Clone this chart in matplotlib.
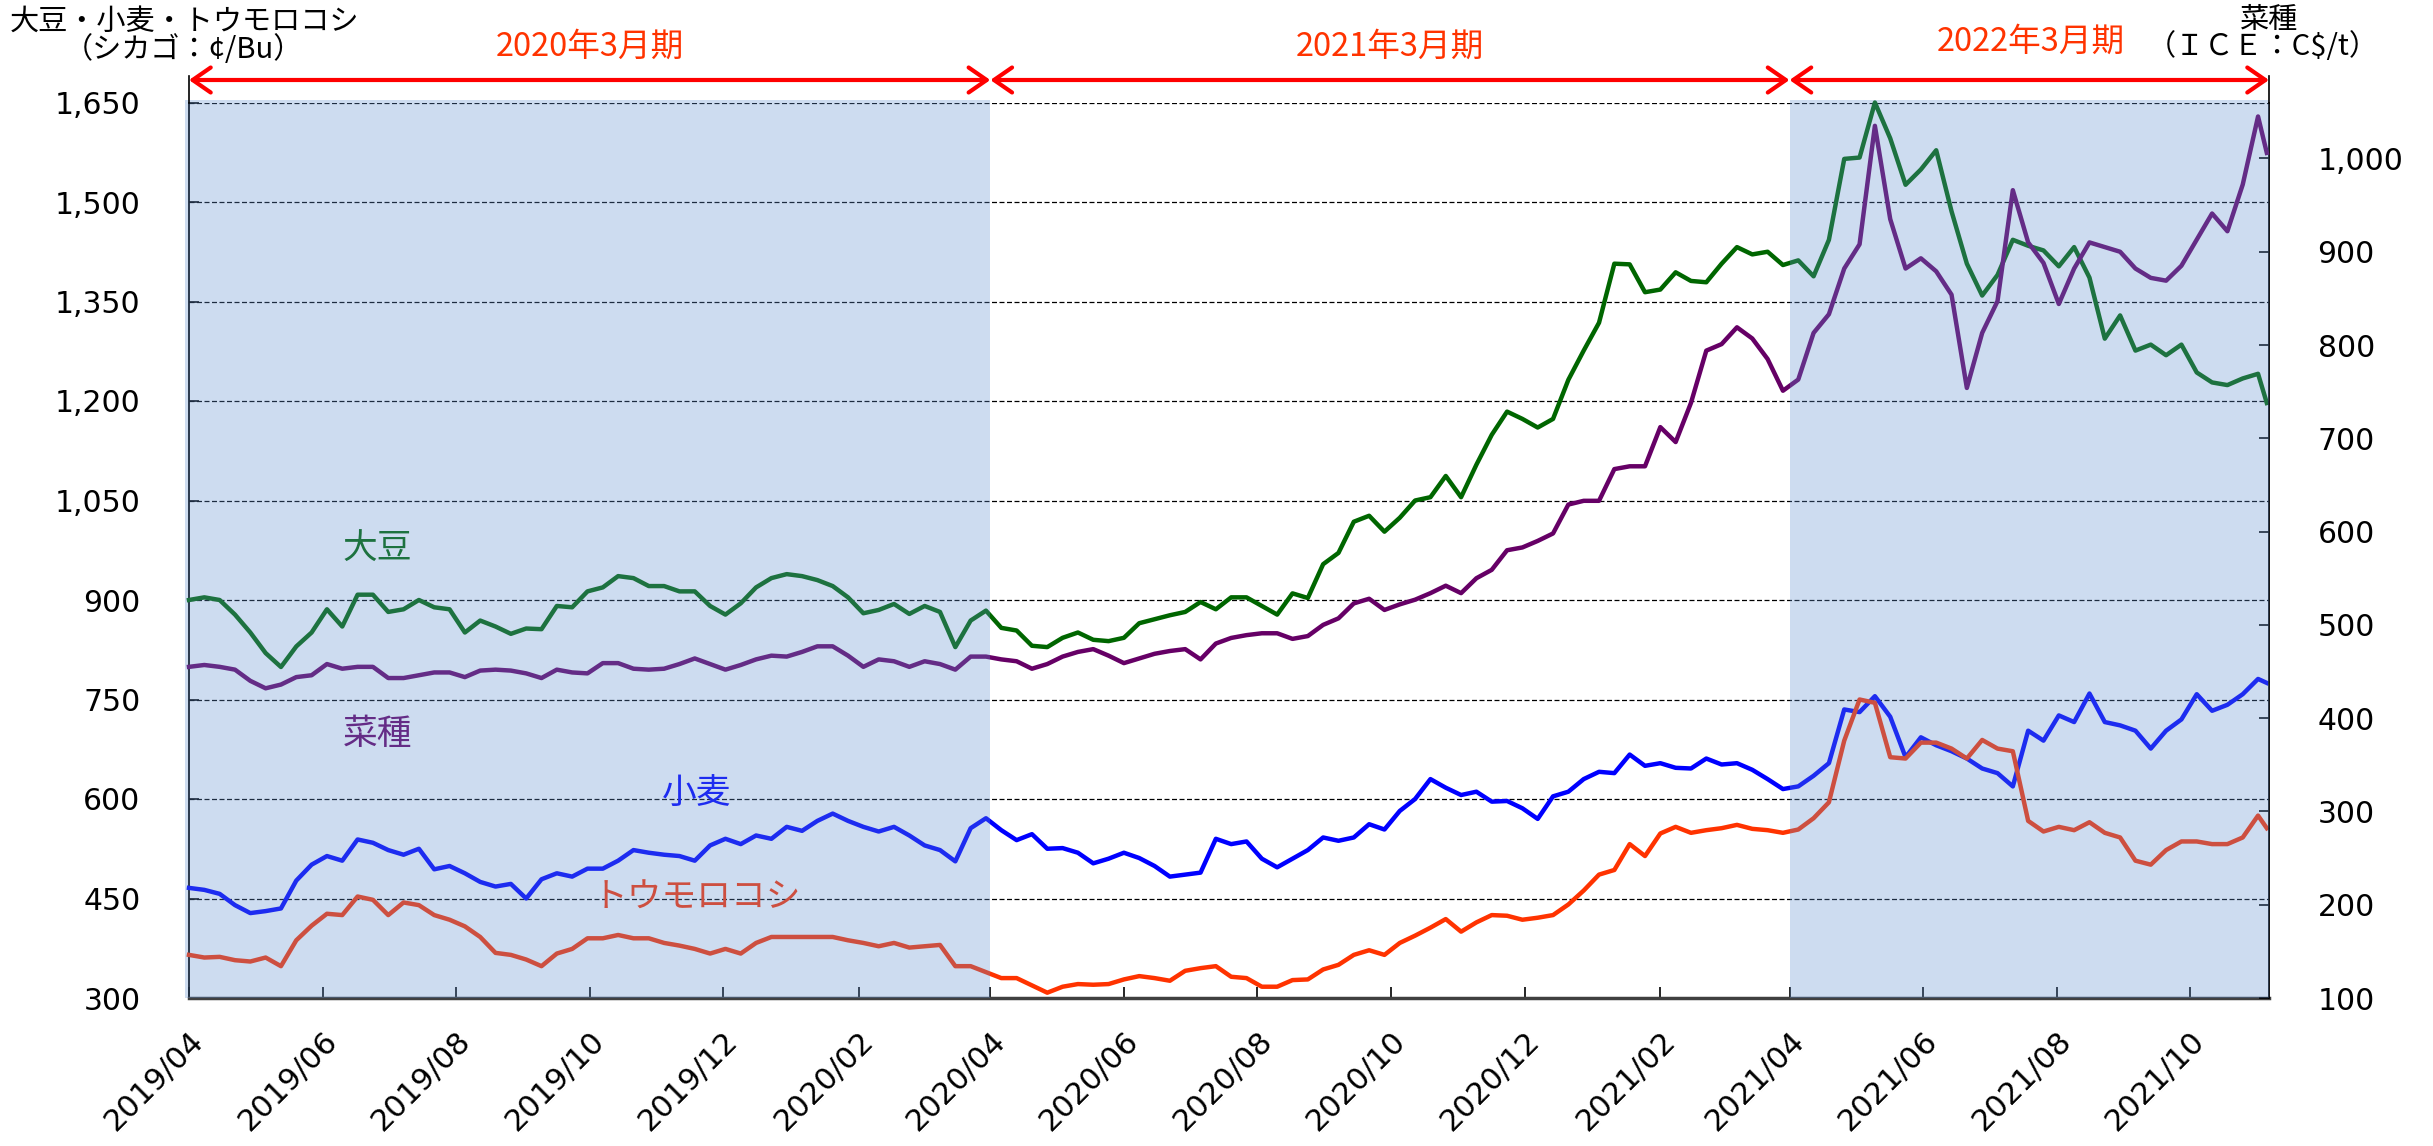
import numpy as np
import pandas as pd
import matplotlib
matplotlib.use('Agg')
import matplotlib.pyplot as plt
import matplotlib.dates as mdates
import matplotlib.transforms as mtransforms
from matplotlib.patches import Rectangle, FancyArrowPatch
from matplotlib.lines import Line2D
from matplotlib.ticker import FuncFormatter, FixedLocator

plt.rcParams['font.family'] = ['DejaVu Sans', 'Noto Sans CJK JP']
CJK = ['Noto Sans CJK JP', 'DejaVu Sans']

# ---------------- data (weekly readings, cents/bu ; rapeseed C$/t) ----------------
dates = list(pd.date_range('2019-04-01', periods=136, freq='7D')) + [pd.Timestamp('2021-11-05')]

soybean = [900, 904, 900, 878, 851, 820, 799, 830, 851, 886, 860, 908, 908, 882, 886, 900, 889, 886, 851, 869,
           860, 849, 857, 856, 891, 889, 913, 919, 936, 933, 921, 921, 913, 913, 891,
           878, 895, 919, 933, 939, 936, 930, 921, 904, 880, 885, 894, 879, 891, 882, 829, 869, 884, 858, 854,
           831, 829, 843, 851, 840, 838, 843, 865, 871, 877, 882, 897, 886, 904,
           904, 891, 878, 910, 903, 954, 971, 1018, 1027, 1003, 1024, 1050, 1055, 1087, 1055, 1104, 1149, 1184,
           1173, 1160, 1173, 1232, 1276, 1318, 1407, 1406, 1364, 1368, 1394, 1381, 1379, 1407, 1432, 1421, 1425,
           1405, 1412, 1388, 1443, 1565, 1567, 1650, 1596, 1526, 1549, 1578, 1486, 1407, 1359, 1390, 1443, 1434,
           1427, 1403, 1432, 1386, 1294, 1329, 1276, 1285, 1269, 1285, 1243, 1228, 1224, 1234, 1241, 1197]

rapeseed = [455, 457, 455, 452, 440, 432, 436, 444, 446, 458, 453, 455, 455, 443, 443, 446, 449, 449, 444, 451,
            452, 451, 448, 443, 452, 449, 448, 459, 459, 453, 452, 453, 458, 464, 458,
            452, 457, 463, 467, 466, 471, 477, 477, 467, 455, 463, 461, 455, 461, 458, 452, 466, 466, 463, 461,
            453, 458, 466, 471, 474, 467, 459, 464, 469, 472, 474, 463, 480, 486,
            489, 491, 491, 485, 488, 500, 507, 523, 528, 516, 522, 527, 534, 542, 534, 550, 559, 580, 583, 590,
            598, 629, 633, 633, 667, 670, 670, 712, 696, 738, 794, 801, 819, 807, 785,
            751, 763, 813, 833, 882, 908, 1035, 935, 882, 893, 879, 854, 754, 813, 847, 966, 910, 888, 844, 882,
            910, 905, 900, 882, 872, 869, 885, 913, 941, 922, 972, 1045, 1006]

wheat = [466, 463, 457, 440, 428, 431, 435, 477, 501, 514, 507, 539, 534, 523, 516, 525, 494, 499, 488, 475,
         468, 472, 450, 479, 488, 483, 495, 495, 507, 523, 519, 516, 514, 507, 530,
         540, 532, 545, 540, 558, 552, 567, 578, 567, 558, 551, 558, 545, 530, 523, 506, 556, 571, 553, 538,
         547, 525, 526, 519, 503, 510, 519, 511, 499, 483, 486, 489, 540, 532,
         536, 510, 497, 510, 523, 542, 537, 542, 562, 554, 582, 600, 630, 617, 606, 611, 596, 597, 586, 570,
         604, 611, 630, 641, 639, 667, 650, 654, 647, 646, 661, 652, 654, 644, 630,
         615, 619, 635, 654, 735, 731, 755, 724, 663, 693, 681, 672, 661, 646, 639, 619, 703, 688, 726, 716,
         759, 716, 711, 703, 676, 703, 720, 758, 733, 742, 758, 781, 775]

corn = [365, 361, 362, 357, 355, 361, 348, 387, 409, 427, 425, 453, 448, 425, 444, 440, 425, 418, 408, 392,
        368, 365, 358, 348, 367, 374, 390, 390, 395, 390, 390, 383, 379, 374, 367,
        374, 367, 383, 392, 392, 392, 392, 392, 387, 383, 378, 383, 376, 378, 380, 348, 348, 339, 330, 330,
        319, 308, 317, 321, 320, 321, 328, 333, 330, 326, 341, 345, 348, 332,
        330, 317, 317, 327, 328, 343, 350, 365, 372, 365, 383, 394, 406, 419, 400, 414, 425, 424, 418, 421,
        425, 441, 462, 486, 493, 532, 514, 548, 558, 549, 553, 556, 561, 555, 553,
        549, 554, 571, 595, 688, 750, 745, 663, 661, 685, 685, 676, 661, 689, 676, 672, 567, 551, 558, 553,
        565, 549, 542, 507, 501, 523, 536, 536, 532, 532, 542, 575, 556]

left_ticks = [300, 450, 600, 750, 900, 1050, 1200, 1350, 1500, 1650]
right_ticks = [100, 200, 300, 400, 500, 600, 700, 800, 900, 1000]
x_ticks = ['2019-04-01', '2019-06-01', '2019-08-01', '2019-10-01', '2019-12-01', '2020-02-01',
           '2020-04-01', '2020-06-01', '2020-08-01', '2020-10-01', '2020-12-01', '2021-02-01',
           '2021-04-01', '2021-06-01', '2021-08-01', '2021-10-01']
period_bounds = ['2019-04-01', '2020-04-01', '2021-04-01', '2021-11-06']
period_labels = ['2020年3月期', '2021年3月期', '2022年3月期']
shaded = [('2019-03-30', '2020-04-01'), ('2021-04-01', '2021-11-06')]

series_labels = [('大豆', '2019-06-26', 976), ('菜種', '2019-06-26', 697),
                 ('小麦', '2019-11-19', 608), ('トウモロコシ', '2019-11-19', 451)]

# ---------------- styling ----------------
W, H = 2433, 1146
C_SOY, C_RAPE, C_WHEAT, C_CORN = '#006600', '#660066', '#0000FF', '#FF3300'
SHADE = (96/255, 143/255, 207/255)
LW = 3.2

fig = plt.figure(figsize=(W/100, H/100), dpi=100)
L, R, T, B = 189, 2269, 102.5, 998
ax = fig.add_axes([L/W, 1-B/H, (R-L)/W, (B-T)/H])
ax2 = ax.twinx()

x0 = mdates.date2num(pd.Timestamp(period_bounds[0]))
x1 = mdates.date2num(pd.Timestamp(period_bounds[-1]))
ax.set_xlim(x0, x1)
ax.set_ylim(300, 1650)
ax2.set_ylim(100, 1060)

for v in left_ticks:
    ax.axhline(v, color='black', lw=0.9, ls=(0, (4, 2)), zorder=1)

ax.plot(dates, soybean, color=C_SOY, lw=LW, zorder=3, clip_on=False, solid_joinstyle='round')
ax.plot(dates, wheat, color=C_WHEAT, lw=LW, zorder=3, clip_on=False, solid_joinstyle='round')
ax.plot(dates, corn, color=C_CORN, lw=LW, zorder=3, clip_on=False, solid_joinstyle='round')
ax2.plot(dates, rapeseed, color=C_RAPE, lw=LW, zorder=3, clip_on=False, solid_joinstyle='round')

label_colors = [C_SOY, C_RAPE, C_WHEAT, C_CORN]
for (txt, d, v), c in zip(series_labels, label_colors):
    ax.text(pd.Timestamp(d), v, txt, color=c, fontsize=25, family=CJK,
            ha='center', va='center', zorder=4)

# shading overlay on top
blend = mtransforms.blended_transform_factory(ax2.transData, ax2.transAxes)
for a, b in shaded:
    xa = mdates.date2num(pd.Timestamp(a)); xb = mdates.date2num(pd.Timestamp(b))
    ax2.add_patch(Rectangle((xa, 0), xb - xa, 1.003, transform=blend, facecolor=SHADE,
                            alpha=0.31, lw=0, zorder=10, clip_on=False))

# spines
for s in ['top', 'right']:
    ax.spines[s].set_visible(False)
for s in ['top', 'left', 'bottom']:
    ax2.spines[s].set_visible(False)
ax.spines['left'].set_color('black'); ax.spines['left'].set_linewidth(1.3)
ax.spines['bottom'].set_color('#404040'); ax.spines['bottom'].set_linewidth(2.5)
ax2.spines['right'].set_color('black'); ax2.spines['right'].set_linewidth(1.3)

# y ticks
ax.yaxis.set_major_locator(FixedLocator(left_ticks))
ax.yaxis.set_major_formatter(FuncFormatter(lambda v, p: f'{v:,.0f}'))
ax.tick_params(axis='y', direction='in', length=7, width=1.2, labelsize=21.5, pad=35)
ax2.yaxis.set_major_locator(FixedLocator(right_ticks))
ax2.yaxis.set_major_formatter(FuncFormatter(lambda v, p: f'{v:,.0f}'))
ax2.tick_params(axis='y', direction='in', length=7, width=1.2, labelsize=21.5, pad=35)

# x ticks with manual rotated labels
xt = [mdates.date2num(pd.Timestamp(d)) for d in x_ticks]
ax.xaxis.set_major_locator(FixedLocator(xt))
ax.tick_params(axis='x', direction='in', length=8, width=1.2, labelbottom=False)
xblend = mtransforms.blended_transform_factory(ax.transData, ax.transAxes)
off = mtransforms.ScaledTranslation(0/100, -28/100, fig.dpi_scale_trans)
for d, x in zip(x_ticks, xt):
    ts = pd.Timestamp(d)
    ax.text(x, 0, ts.strftime('%Y/%m'), transform=xblend + off, fontsize=22,
            rotation=45, ha='right', va='top', rotation_mode='anchor', clip_on=False)

# axis titles
def ftext(px, py, s, **kw):
    fig.text(px/W, 1-py/H, s, **kw)

ftext(184, 22, '大豆・小麦・トウモロコシ', fontsize=21, family=CJK, ha='center', va='center')
ftext(183, 50, '（シカゴ：¢/Bu）', fontsize=21, family=CJK, ha='center', va='center')
ftext(2269, 20, '菜種', fontsize=21, family=CJK, ha='center', va='center')
ftext(2263, 47, '（ＩＣＥ：C$/t）', fontsize=21, family=CJK, ha='center', va='center')

# period arrows and labels
pb = [L + (mdates.date2num(pd.Timestamp(d)) - x0) / (x1 - x0) * (R - L) for d in period_bounds]
label_y = [47, 47, 42]
for i, lab in enumerate(period_labels):
    xa, xb = pb[i], pb[i+1]
    arr = FancyArrowPatch((xa/W, 1-80/H), (xb/W, 1-80/H), transform=fig.transFigure,
                          arrowstyle='<->,head_length=0.65,head_width=0.45', mutation_scale=20,
                          lw=3, color='#FF0000', shrinkA=0, shrinkB=0)
    fig.add_artist(arr)
    ftext((xa+xb)/2 + (0 if i < 2 else 2), label_y[i], lab, fontsize=23.5, family=CJK,
          color='#FF3300', ha='center', va='center')

for px in (L, R):
    fig.add_artist(Line2D([px/W, px/W], [1-T/H, 1-76/H], transform=fig.transFigure,
                          color='black', lw=1.2))

fig.savefig('out.png', dpi=100)
